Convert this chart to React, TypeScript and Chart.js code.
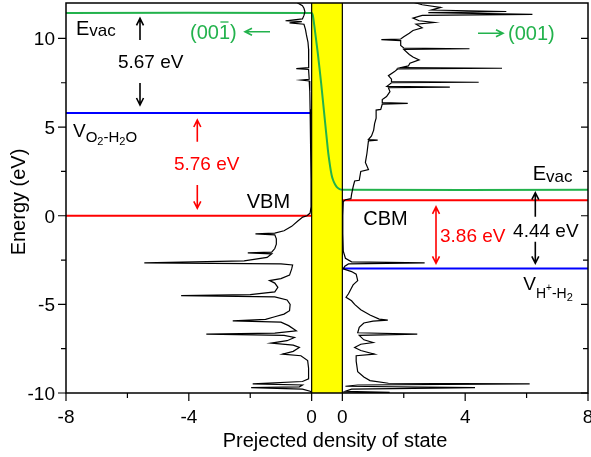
import React, { useEffect, useRef } from "react";
import { Chart, registerables } from "chart.js";

Chart.register(...registerables);

// ---- axis layout (left panel: -8..0, yellow gap, right panel: 0..8) ----
const GAP = 1; // width of the yellow band in x units
const X_MIN = -8;
const X_MAX = GAP + 8;
const Y_MIN = -10;
const Y_MAX = 12;

const X_TICKS_LEFT = [-8, -4, 0];
const X_TICKS_RIGHT = [0, 4, 8];
const X_MINOR_LEFT = [-6, -2];
const X_MINOR_RIGHT = [2, 6];
const Y_TICKS = [-10, -5, 0, 5, 10];
const Y_MINOR = [-7.5, -2.5, 2.5, 7.5];

// ---- energy levels (eV) ----
const E_VAC_LEFT = 11.44;
const V_O2_H2O = 5.8;
const VBM = 0;
const CBM = 0.88;
const E_VAC_RIGHT = 1.46;
const V_H_H2 = -2.97;

// ---- (00-1) surface DOS, plotted to the left ----
const LEFT_ENERGY = [
  12.2, 12.0, 11.85, 11.7, 11.5, 11.3, 11.1, 11.0, 10.95, 10.88, 10.8, 10.5, 10.2, 9.8, 9.4, 9.0, 8.5,
  8.35, 8.3, 8.25, 7.7, 7.65, 7.6, 7.0, 6.0, 5.0, 4.0, 2.0, 0.5, 0.15, 0.0, -0.08, -0.3, -0.6, -0.85,
  -0.98, -1.02, -1.08, -1.3, -1.6, -1.85, -2.05, -2.1, -2.15, -2.35, -2.55, -2.66, -2.72, -2.78, -3.0,
  -3.35, -3.55, -3.66, -3.8, -4.04, -4.3, -4.45, -4.51, -4.58, -4.75, -5.0, -5.36, -5.55, -5.7, -5.85,
  -5.93, -6.0, -6.2, -6.49, -6.62, -6.68, -6.75, -6.87, -7.05, -7.19, -7.3, -7.43, -7.65, -7.81, -7.9,
  -8.17, -8.6, -9.2, -9.35, -9.48, -9.55, -9.65, -9.7, -9.78, -9.9, -10.0,
];
const LEFT_DOS = [
  0.35, 0.45, 0.3, 0.25, 0.22, 0.25, 0.3, 0.85, 0.32, 0.72, 0.25, 0.2, 0.17, 0.12, 0.1, 0.1, 0.09,
  0.1, 0.5, 0.1, 0.08, 0.35, 0.08, 0.06, 0.05, 0.04, 0.03, 0.02, 0.02, 0.05, 0.15, 0.29, 0.45, 0.65, 0.9,
  1.2, 1.83, 1.2, 1.15, 1.15, 1.2, 1.3, 2.08, 1.3, 1.45, 2.2, 5.45, 1.0, 0.62, 0.65,
  0.72, 1.0, 1.37, 1.2, 1.1, 1.2, 2.0, 4.25, 1.2, 0.8, 0.7, 0.72, 0.9, 1.2, 1.5,
  2.57, 1.0, 0.75, 0.5, 1.2, 3.43, 0.9, 0.56, 0.8, 1.32, 0.6, 0.4, 0.6, 0.95, 0.35,
  0.13, 0.1, 0.1, 0.3, 1.92, 0.3, 0.4, 1.97, 0.3, 0.05, 0.0,
];

// ---- (001) surface DOS, plotted to the right ----
const RIGHT_ENERGY = [
  12.2, 12.05, 11.9, 11.75, 11.6, 11.52, 11.46, 11.36, 11.3, 11.15, 11.0, 10.9, 10.8, 10.6, 10.45, 10.3,
  10.1, 9.97, 9.93, 9.88, 9.6, 9.46, 9.42, 9.38, 9.1, 8.95, 8.79, 8.6, 8.45, 8.35, 8.32, 8.28, 8.13, 7.9,
  7.7, 7.56, 7.53, 7.5, 7.3, 7.26, 7.22, 7.0, 6.72, 6.55, 6.38, 6.34, 6.3, 6.0, 5.96, 5.5, 5.2, 4.83, 4.5,
  4.3, 4.27, 4.22, 3.51, 3.0, 2.6, 2.5, 2.0, 1.96, 1.62, 1.2, 0.96, 0.9, 0.8, 0.0, -1.0, -2.0, -2.4, -2.6,
  -2.66, -2.72, -2.85, -3.0, -3.15, -3.3, -3.66, -3.9, -4.13, -4.4, -4.6, -4.8, -5.0, -5.3, -5.6, -5.83,
  -5.89, -5.95, -6.05, -6.3, -6.6, -6.68, -6.75, -7.0, -7.15, -7.25, -7.43, -7.6, -7.81, -7.9, -8.2, -8.8,
  -9.1, -9.3, -9.45, -9.48, -9.55, -9.62, -9.7, -9.78, -9.9, -9.97, -10.0,
];
const RIGHT_DOS = [
  2.5, 2.3, 2.6, 3.2, 2.9, 5.34, 2.8, 6.19, 2.6, 2.3, 2.5, 3.0, 2.4, 2.6, 2.3, 2.18,
  2.0, 1.9, 1.27, 1.9, 1.9, 2.0, 4.14, 2.0, 2.18, 2.3, 2.5, 2.2, 2.15, 1.9, 5.2, 1.8, 1.7, 1.5,
  1.6, 1.6, 4.44, 1.6, 1.45, 3.5, 1.5, 1.55, 1.44, 1.3, 1.3, 2.13, 1.3, 1.25, 1.1, 1.1, 1.05, 1.02, 0.95,
  0.85, 1.15, 0.85, 0.8, 0.75, 0.85, 0.6, 0.55, 0.4, 0.35, 0.3, 0.28, 0.1, 0.03, 0.015, 0.015, 0.03, 0.1, 0.3,
  2.68, 0.2, 0.08, 0.03, 0.3, 0.45, 0.5, 0.35, 0.28, 0.2, 0.12, 0.3, 0.4, 0.6, 0.9, 1.2,
  1.48, 1.0, 0.7, 0.55, 0.5, 2.44, 0.55, 0.7, 1.0, 0.6, 0.4, 0.6, 1.05, 0.45, 0.45, 0.5,
  0.7, 0.9, 1.5, 6.1, 0.5, 0.1, 4.32, 0.3, 0.1, 1.54, 0.0,
];

// ---- vacuum-level curve across the yellow band (fraction of band, energy) ----
const GREEN_BAND_T = [0, 0.04, 0.09, 0.2, 0.31, 0.42, 0.53, 0.6, 0.65, 0.7, 0.76, 0.83, 0.91, 1.0];
const GREEN_BAND_E = [11.44, 11.3, 10.68, 9.17, 7.47, 5.58, 3.7, 2.8, 2.3, 2.0, 1.78, 1.6, 1.5, 1.46];

const GREEN = "#22b24c";
const RED = "#ff0000";
const BLUE = "#0000ff";
const YELLOW = "#ffff00";
const FONT = '"Liberation Sans", Arial, sans-serif';

const W = 591;
const H = 457;

function font(size: number) {
  return `${size}px ${FONT}`;
}

function arrowV(ctx: CanvasRenderingContext2D, x: number, y0: number, y1: number, color: string, both = false) {
  ctx.save();
  ctx.strokeStyle = color;
  ctx.lineWidth = 1.6;
  ctx.beginPath();
  ctx.moveTo(x, y0);
  ctx.lineTo(x, y1);
  const head = (tip: number, dir: number) => {
    ctx.moveTo(x - 3.5, tip - dir * 7);
    ctx.lineTo(x, tip);
    ctx.lineTo(x + 3.5, tip - dir * 7);
  };
  head(y1, Math.sign(y1 - y0));
  if (both) head(y0, Math.sign(y0 - y1));
  ctx.stroke();
  ctx.restore();
}

function arrowH(ctx: CanvasRenderingContext2D, x0: number, x1: number, y: number, color: string) {
  ctx.save();
  ctx.strokeStyle = color;
  ctx.lineWidth = 1.6;
  const dir = Math.sign(x1 - x0);
  ctx.beginPath();
  ctx.moveTo(x0, y);
  ctx.lineTo(x1, y);
  ctx.moveTo(x1 - dir * 7, y - 3.5);
  ctx.lineTo(x1, y);
  ctx.lineTo(x1 - dir * 7, y + 3.5);
  ctx.stroke();
  ctx.restore();
}

type Run = { t: string; size: number; dy?: number };
function runs(ctx: CanvasRenderingContext2D, x: number, y: number, parts: Run[], color: string) {
  ctx.save();
  ctx.fillStyle = color;
  ctx.textAlign = "left";
  ctx.textBaseline = "alphabetic";
  let cx = x;
  for (const p of parts) {
    ctx.font = font(p.size);
    ctx.fillText(p.t, cx, y + (p.dy || 0));
    cx += ctx.measureText(p.t).width;
  }
  ctx.restore();
  return cx;
}

function text(ctx: CanvasRenderingContext2D, s: string, x: number, y: number, size: number, color: string, align: CanvasTextAlign = "left") {
  ctx.save();
  ctx.font = font(size);
  ctx.fillStyle = color;
  ctx.textAlign = align;
  ctx.textBaseline = "alphabetic";
  ctx.fillText(s, x, y);
  ctx.restore();
}

const decor = {
  id: "decor",
  beforeDatasetsDraw(chart: any) {
    const { ctx, chartArea: a, scales } = chart;
    const x0 = scales.x.getPixelForValue(0);
    const x1 = scales.x.getPixelForValue(GAP);
    ctx.save();
    ctx.fillStyle = YELLOW;
    ctx.fillRect(x0, a.top, x1 - x0, a.bottom - a.top);
    ctx.restore();
  },
  afterDatasetsDraw(chart: any) {
    const { ctx, chartArea: a, scales } = chart;
    const X = (v: number) => scales.x.getPixelForValue(v);
    const Y = (v: number) => scales.y.getPixelForValue(v);
    const XR = (v: number) => X(GAP + v);

    ctx.save();
    ctx.strokeStyle = "#000";
    // panel separators
    ctx.lineWidth = 1.2;
    ctx.beginPath();
    ctx.moveTo(X(0), a.top);
    ctx.lineTo(X(0), a.bottom);
    ctx.moveTo(X(GAP), a.top);
    ctx.lineTo(X(GAP), a.bottom);
    ctx.stroke();
    // frame
    ctx.lineWidth = 1.5;
    ctx.strokeRect(a.left, a.top, a.right - a.left, a.bottom - a.top);
    // ticks
    ctx.lineWidth = 1.2;
    ctx.beginPath();
    for (const v of Y_TICKS) {
      ctx.moveTo(a.left - 8, Y(v)); ctx.lineTo(a.left, Y(v));
      ctx.moveTo(a.right, Y(v)); ctx.lineTo(a.right - 7, Y(v));
    }
    for (const v of Y_MINOR) {
      ctx.moveTo(a.left - 5, Y(v)); ctx.lineTo(a.left, Y(v));
      ctx.moveTo(a.right, Y(v)); ctx.lineTo(a.right - 5, Y(v));
    }
    for (const v of X_TICKS_LEFT) { ctx.moveTo(X(v), a.bottom); ctx.lineTo(X(v), a.bottom + 8); }
    for (const v of X_TICKS_RIGHT) { ctx.moveTo(XR(v), a.bottom); ctx.lineTo(XR(v), a.bottom + 8); }
    for (const v of X_MINOR_LEFT) { ctx.moveTo(X(v), a.bottom); ctx.lineTo(X(v), a.bottom + 5); }
    for (const v of X_MINOR_RIGHT) { ctx.moveTo(XR(v), a.bottom); ctx.lineTo(XR(v), a.bottom + 5); }
    ctx.stroke();
    ctx.restore();

    // tick labels
    for (const v of Y_TICKS) text(ctx, String(v), a.left - 11, Y(v) + 7, 19, "#000", "right");
    for (const v of X_TICKS_LEFT) text(ctx, String(v), X(v), a.bottom + 30, 19, "#000", "center");
    for (const v of X_TICKS_RIGHT) text(ctx, String(v), XR(v), a.bottom + 30, 19, "#000", "center");

    // axis titles
    text(ctx, "Prejected density of state", (a.left + a.right) / 2 + 8, a.bottom + 54, 20, "#000", "center");
    ctx.save();
    ctx.translate(25, (a.top + a.bottom) / 2 + 4);
    ctx.rotate(-Math.PI / 2);
    text(ctx, "Energy (eV)", 0, 0, 20, "#000", "center");
    ctx.restore();

    // ---- left panel annotations ----
    runs(ctx, X(-7.674), Y(10.195), [{ t: "E", size: 20 }, { t: "vac", size: 17, dy: 1 }], "#000");
    arrowV(ctx, X(-5.59), Y(9.913), Y(11.137), "#000");
    text(ctx, "5.67 eV", X(-5.242), Y(8.316), 19, "#000", "center");
    arrowV(ctx, X(-5.59), Y(7.487), Y(6.246), "#000");
    runs(
      ctx,
      X(-7.772),
      Y(4.441),
      [
        { t: "V", size: 19 },
        { t: "O", size: 15, dy: 5 },
        { t: "2", size: 11, dy: 8 },
        { t: "-H", size: 15, dy: 5 },
        { t: "2", size: 11, dy: 8 },
        { t: "O", size: 15, dy: 5 },
      ],
      "#000"
    );
    arrowV(ctx, X(-3.724), Y(4.176), Y(5.4), RED);
    text(ctx, "5.76 eV", X(-3.418), Y(2.579), 19, RED, "center");
    arrowV(ctx, X(-3.724), Y(1.733), Y(0.419), RED);
    text(ctx, "VBM", X(-2.115), Y(0.419), 20, "#000");

    // (00-1) label with overbar on the 1
    {
      const bx = X(-3.962);
      const by = Y(9.997);
      ctx.save();
      ctx.font = font(20);
      const w0 = ctx.measureText("(00").width;
      const w1 = ctx.measureText("1").width;
      ctx.restore();
      runs(ctx, bx, by, [{ t: "(00", size: 20 }, { t: "1", size: 20 }, { t: ")", size: 20 }], GREEN);
      ctx.save();
      ctx.strokeStyle = GREEN;
      ctx.lineWidth = 1.3;
      ctx.beginPath();
      ctx.moveTo(bx + w0 + 1.5, by - 16.5);
      ctx.lineTo(bx + w0 + w1 - 1.5, by - 16.5);
      ctx.stroke();
      ctx.restore();
    }
    arrowH(ctx, X(-1.356), X(-2.171), Y(10.381), GREEN);

    // ---- right panel annotations ----
    arrowH(ctx, XR(4.418), XR(5.232), Y(10.291), GREEN);
    text(ctx, "(001)", XR(5.395), Y(9.913), 20, GREEN);
    runs(ctx, XR(6.199), Y(2.015), [{ t: "E", size: 20 }, { t: "vac", size: 17, dy: 2 }], "#000");
    arrowV(ctx, XR(6.284), Y(-0.055), Y(1.3), "#000");
    text(ctx, "4.44 eV", XR(6.626), Y(-1.183), 19, "#000", "center");
    arrowV(ctx, XR(6.284), Y(-1.465), Y(-2.684), "#000");
    runs(
      ctx,
      XR(5.893),
      Y(-4.19),
      [
        { t: "V", size: 19 },
        { t: "H", size: 14, dy: 8 },
        { t: "+", size: 10, dy: 1 },
        { t: "-H", size: 14, dy: 8 },
        { t: "2", size: 11, dy: 11 },
      ],
      "#000"
    );
    arrowV(ctx, XR(3.05), Y(0.499), Y(-2.684), RED, true);
    text(ctx, "3.86 eV", XR(3.18), Y(-1.465), 19, RED);
    text(ctx, "CBM", XR(0.682), Y(-0.523), 20, "#000");
  },
};

function levelLine(x0: number, x1: number, e: number, color: string) {
  return {
    data: [
      { x: x0, y: e },
      { x: x1, y: e },
    ],
    borderColor: color,
    borderWidth: 2,
    showLine: true,
    pointRadius: 0,
    fill: false,
  };
}

export default function App() {
  const ref = useRef<HTMLCanvasElement>(null);

  useEffect(() => {
    const leftPts = LEFT_ENERGY.map((e, i) => ({ x: -LEFT_DOS[i], y: e }));
    const rightPts = RIGHT_ENERGY.map((e, i) => ({ x: GAP + RIGHT_DOS[i], y: e }));
    const greenPts = [
      { x: X_MIN, y: E_VAC_LEFT },
      ...GREEN_BAND_T.map((t, i) => ({ x: t * GAP, y: GREEN_BAND_E[i] })),
      { x: GAP + 8, y: E_VAC_RIGHT },
    ];

    const chart = new Chart(ref.current as HTMLCanvasElement, {
      type: "scatter",
      data: {
        datasets: [
          { data: leftPts, borderColor: "#000", borderWidth: 1.2, showLine: true, pointRadius: 0, fill: false },
          { data: rightPts, borderColor: "#000", borderWidth: 1.2, showLine: true, pointRadius: 0, fill: false },
          {
            data: greenPts,
            borderColor: GREEN,
            borderWidth: 2,
            showLine: true,
            pointRadius: 0,
            fill: false,
            tension: 0.15,
          },
          levelLine(X_MIN, 0, V_O2_H2O, BLUE),
          levelLine(X_MIN, 0, VBM, RED),
          levelLine(GAP, GAP + 8, CBM, RED),
          levelLine(GAP, GAP + 8, V_H_H2, BLUE),
        ] as any,
      },
      options: {
        responsive: false,
        maintainAspectRatio: false,
        animation: false,
        layout: { padding: { left: 66, right: 3, top: 3, bottom: 64 } },
        scales: {
          x: { type: "linear", min: X_MIN, max: X_MAX, display: false },
          y: { type: "linear", min: Y_MIN, max: Y_MAX, display: false },
        },
        plugins: {
          legend: { display: false },
          tooltip: { enabled: false },
        },
        events: [],
      },
      plugins: [decor],
    });
    return () => chart.destroy();
  }, []);

  return (
    <div style={{ position: "fixed", left: 0, top: 0, width: W, height: H, background: "#fff" }}>
      <canvas ref={ref} width={W} height={H} style={{ width: W, height: H, display: "block" }} />
    </div>
  );
}
